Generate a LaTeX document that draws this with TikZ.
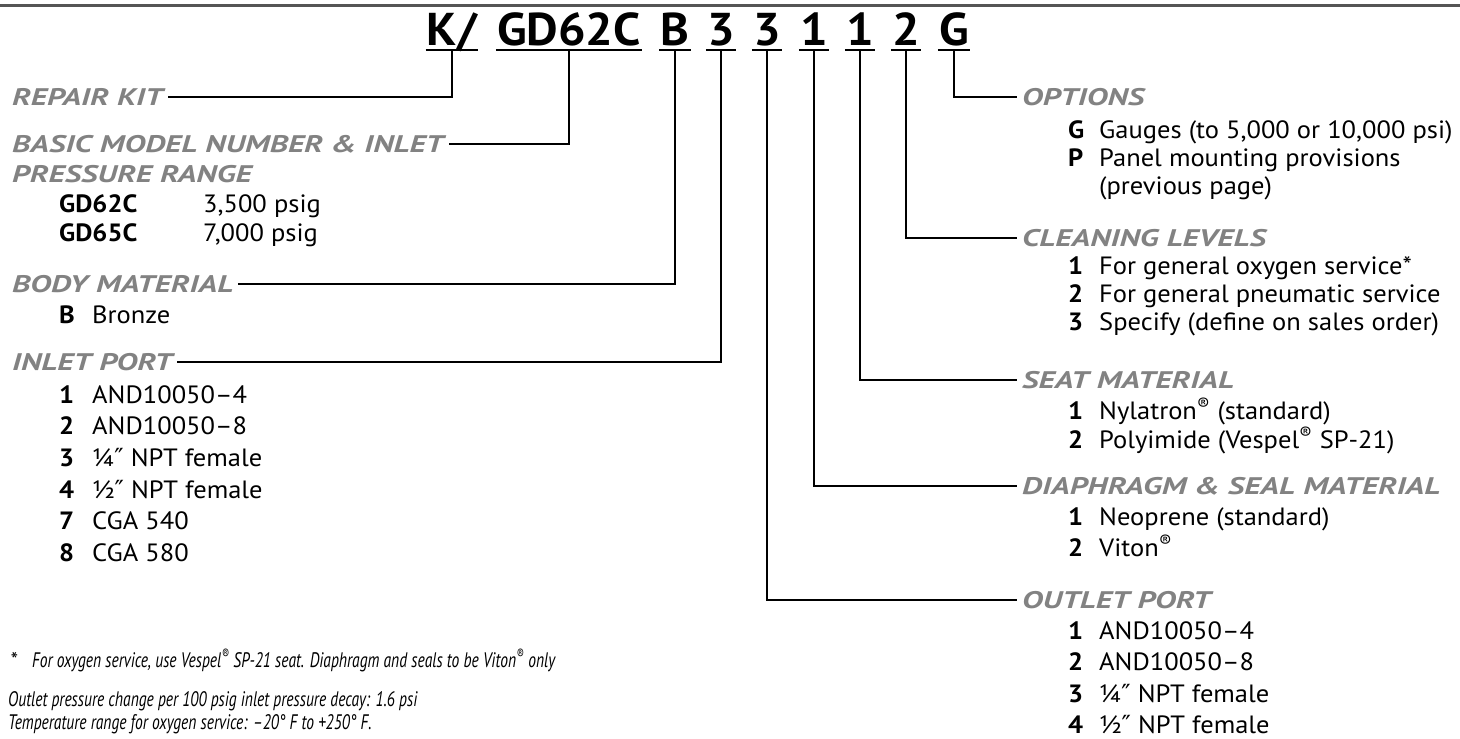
\documentclass[tikz,border=0pt]{standalone}
\usepackage{fontspec,graphicx}
\setmainfont{PT Sans}[FakeStretch=1.06]
\newfontfamily\headfont{PT Sans}[FakeStretch=1.34]
\newfontfamily\notefont{PT Sans}
\newfontfamily\symfont{DejaVu Sans}
\usetikzlibrary{positioning}
\definecolor{headgrey}{RGB}{130,130,130}
\definecolor{rulegrey}{RGB}{85,85,85}
\newcommand{\dprime}{{\symfont\char"2033}}
\newcommand{\reg}{\textsuperscript{\char"00AE}}
\newcommand{\notebox}[1]{\scalebox{0.74}[1]{#1}}

\begin{document}
\begin{tikzpicture}[x=1pt,y=-1pt,
  codechar/.style={font=\fontsize{46}{50}\selectfont\bfseries,anchor=base,
    inner xsep=1pt,inner ysep=5pt,text depth=0pt},
  head/.style={font=\headfont\fontsize{24}{28}\selectfont\bfseries\itshape,text=headgrey,
    anchor=west,inner xsep=5pt,inner ysep=0pt,text height=17pt,text depth=0pt},
  num/.style={font=\fontsize{25}{30}\selectfont\bfseries,anchor=west,
    inner sep=0pt,text height=17pt,text depth=0pt},
  desc/.style={font=\fontsize{25}{30}\selectfont,anchor=west,
    inner sep=0pt,text height=17pt,text depth=0pt},
  note/.style={font=\notefont\fontsize{21}{25}\selectfont\itshape,anchor=west,
    inner sep=0pt,text height=15pt,text depth=0pt},
  leader/.style={line width=1.5pt},
  underbar/.style={line width=2pt}
]
\useasboundingbox (0,0) rectangle (1460,739);
\draw[rulegrey,line width=3pt] (0,5) -- (1460,5);

% ordering code
\node[codechar] (ckit) at (452,45) {K/};
\node[codechar] (cmodel) at (569,45) {GD62C};
\node[codechar] (cbody) at (675,45) {B};
\node[codechar] (cinlet) at (721,45) {3};
\node[codechar] (coutlet) at (767,45) {3};
\node[codechar] (cseal) at (814,45) {1};
\node[codechar] (cseat) at (860,45) {1};
\node[codechar] (cclean) at (906,45) {2};
\node[codechar] (copt) at (954,45) {G};
\foreach \c in {ckit,cmodel,cbody,cinlet,coutlet,cseal,cseat,cclean,copt}
  \draw[underbar] (\c.south west) -- (\c.south east);

% left column
\node[head] (hkit) at (7,97) {REPAIR KIT};
\node[head] (hmodel) at (7,144) {BASIC MODEL NUMBER \& INLET};
\node[head] (hrange) at (7,174) {PRESSURE RANGE};
\node[num] (model1) at (59,204) {GD62C};
\node[desc] (modeld1) at (203,204) {3,500 psig};
\node[num] (model2) at (59,233) {GD65C};
\node[desc] (modeld2) at (203,233) {7,000 psig};
\node[head] (hbody) at (7,284) {BODY MATERIAL};
\node[num] (body1) at (59,315) {B};
\node[desc] (bodyd1) at (92,315) {Bronze};
\node[head] (hinlet) at (7,362) {INLET PORT};
\foreach \n/\t/\y [count=\i] in {1/AND10050--4/395,2/AND10050--8/426,
    3/{¼\dprime{} NPT female}/458,4/{½\dprime{} NPT female}/490,7/CGA 540/521,8/CGA 580/553}{
  \node[num] (inlet\i) at (59,\y) {\n};
  \node[desc] (inletd\i) at (92,\y) {\t};
}

% right column
\node[head] (hopt) at (1017,97) {OPTIONS};
\node[num] (opt1) at (1068,130) {G};
\node[desc] (optd1) at (1099,130) {Gauges (to 5,000 or 10,000 psi)};
\node[num] (opt2) at (1068,158) {P};
\node[desc] (optd2) at (1099,158) {Panel mounting provisions};
\node[desc] (optd3) at (1099,186) {(previous page)};
\node[head] (hclean) at (1017,238) {CLEANING LEVELS};
\foreach \n/\t/\y [count=\i] in {1/For general oxygen service*/266,
    2/For general pneumatic service/294,3/Specify (define on sales order)/322}{
  \node[num] (clean\i) at (1068,\y) {\n};
  \node[desc] (cleand\i) at (1099,\y) {\t};
}
\node[head] (hseat) at (1017,380) {SEAT MATERIAL};
\foreach \n/\t/\y [count=\i] in {1/Nylatron\reg{} (standard)/411,
    2/Polyimide (Vespel\reg{} SP-21)/440}{
  \node[num] (seat\i) at (1068,\y) {\n};
  \node[desc] (seatd\i) at (1099,\y) {\t};
}
\node[head] (hseal) at (1017,486) {DIAPHRAGM \& SEAL MATERIAL};
\foreach \n/\t/\y [count=\i] in {1/Neoprene (standard)/517,2/Viton\reg/548}{
  \node[num] (seal\i) at (1068,\y) {\n};
  \node[desc] (seald\i) at (1099,\y) {\t};
}
\node[head] (houtlet) at (1017,600) {OUTLET PORT};
\foreach \n/\t/\y [count=\i] in {1/AND10050--4/631,2/AND10050--8/662,
    3/{¼\dprime{} NPT female}/694,4/{½\dprime{} NPT female}/725}{
  \node[num] (outlet\i) at (1068,\y) {\n};
  \node[desc] (outletd\i) at (1099,\y) {\t};
}

% leaders
\draw[leader] (ckit.south) |- (hkit.east);
\draw[leader] (cmodel.south) |- (hmodel.east);
\draw[leader] (cbody.south) |- (hbody.east);
\draw[leader] (cinlet.south) |- (hinlet.east);
\draw[leader] (coutlet.south) |- (houtlet.west);
\draw[leader] (cseal.south) |- (hseal.west);
\draw[leader] (cseat.south) |- (hseat.west);
\draw[leader] (cclean.south) |- (hclean.west);
\draw[leader] (copt.south) |- (hopt.west);

% notes
\node[note] (nstar) at (10,660) {*};
\node[note] (noxygen) at (32,660) {\notebox{For oxygen service, use Vespel\reg{} SP-21 seat. Diaphragm and seals to be Viton\reg{} only}};
\node[note] (ndecay) at (8,699) {\notebox{Outlet pressure change per 100 psig inlet pressure decay: 1.6 psi}};
\node[note] (ntemp) at (8,722) {\notebox{Temperature range for oxygen service: –20° F to +250° F.}};
\end{tikzpicture}
\end{document}
